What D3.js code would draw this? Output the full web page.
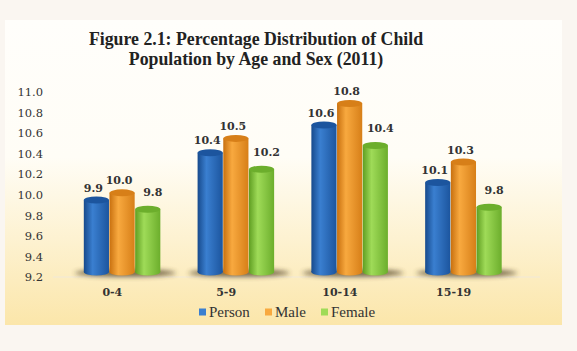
<!DOCTYPE html>
<html>
<head>
<meta charset="utf-8">
<script src="https://cdn.jsdelivr.net/npm/d3@7"></script>
<style>
  body { margin: 0; background: #faf6f1; }
  svg { display: block; }
</style>
</head>
<body>
<svg></svg>
<script>
const w = 577
const h = 351

// data
const ages = ['0-4', '5-9', '10-14', '15-19']
const series = ['Person', 'Male', 'Female']
const person = [9.90, 10.36, 10.63, 10.07]
const male = [9.97, 10.50, 10.84, 10.27]
const female = [9.81, 10.20, 10.43, 9.83]
const yTicks = [9.2, 9.4, 9.6, 9.8, 10.0, 10.2, 10.4, 10.6, 10.8, 11.0]

const colors = {
  Person: ['#174a8c', '#3a7fd0', '#1c559e'],
  Male: ['#c8700f', '#f8a93f', '#d77f18'],
  Female: ['#5f9e22', '#9fdb58', '#6cae2c']
}
// label nudges per series (excel moved the green ones up/right)
const labelShift = {
  Person: {dx: -3, dy: 0},
  Male: {dx: -3, dy: 0},
  Female: {dx: 5, dy: -5}
}

const svg = d3.select('svg')
  .attr('width', w)
  .attr('height', h);

const defs = svg.append('defs');

// panel background
const bg = defs.append('linearGradient').attr('id', 'bg')
  .attr('x1', 0).attr('y1', 0).attr('x2', 0).attr('y2', 1);
bg.append('stop').attr('offset', '0%').attr('stop-color', '#fffefb');
bg.append('stop').attr('offset', '45%').attr('stop-color', '#fffdf6');
bg.append('stop').attr('offset', '100%').attr('stop-color', '#fbe6aa');

svg.append('rect')
  .attr('x', 5).attr('y', 20)
  .attr('width', 557).attr('height', 305)
  .attr('fill', 'url(#bg)');

series.forEach(s => {
  const g = defs.append('linearGradient').attr('id', 'g-' + s)
    .attr('x1', 0).attr('y1', 0).attr('x2', 1).attr('y2', 0);
  g.append('stop').attr('offset', '0%').attr('stop-color', colors[s][0]);
  g.append('stop').attr('offset', '35%').attr('stop-color', colors[s][1]);
  g.append('stop').attr('offset', '100%').attr('stop-color', colors[s][2]);
});

const blur = defs.append('filter').attr('id', 'blur')
  .attr('x', '-20%').attr('y', '-100%').attr('width', '140%').attr('height', '300%');
blur.append('feGaussianBlur').attr('stdDeviation', 2.5);

const table = ages.map((a, i) => ({
  age: a,
  values: [
    {key: 'Person', v: person[i]},
    {key: 'Male', v: male[i]},
    {key: 'Female', v: female[i]}
  ]
}));

const x = d3.scaleBand()
  .domain(ages)
  .range([65.6, 520.4])
  .paddingInner(0.323)
  .paddingOuter(0.16);

const xs = d3.scaleBand()
  .domain(series)
  .range([0, x.bandwidth()]);

const y = d3.scaleLinear()
  .domain([9.2, 11.0])
  .range([277, 92]);

const lift = 5;   // 3d floor offset
const ry = 3.5;

// title
const title = svg.append('text')
  .attr('text-anchor', 'middle')
  .attr('font-family', 'Liberation Serif, serif')
  .attr('font-weight', 'bold')
  .attr('font-size', 17.8)
  .attr('fill', '#222');
title.append('tspan').attr('x', 256).attr('y', 45).text('Figure 2.1: Percentage Distribution of Child');
title.append('tspan').attr('x', 256).attr('y', 65).text('Population by Age and Sex (2011)');

// y axis
const yAxis = svg.append('g')
  .attr('transform', 'translate(46,0)')
  .call(d3.axisLeft(y).tickValues(yTicks).tickFormat(d3.format('.1f')).tickSize(0).tickPadding(3));
yAxis.select('.domain').remove();
yAxis.selectAll('text')
  .attr('font-family', 'DejaVu Serif, serif')
  .attr('font-size', 11.5)
  .attr('fill', '#333');

// floor line
svg.append('line')
  .attr('x1', 53).attr('x2', 540)
  .attr('y1', y(9.2)).attr('y2', y(9.2))
  .attr('stroke', '#f4ead0').attr('stroke-width', 1.5);

const groups = svg.selectAll('.grp').data(table)
  .enter().append('g')
  .attr('class', 'grp')
  .attr('transform', d => `translate(${x(d.age)},0)`);

// shadows
groups.append('ellipse')
  .attr('cx', x.bandwidth() / 2 + 3)
  .attr('cy', y(9.2) - lift + 1)
  .attr('rx', x.bandwidth() / 2 + 12)
  .attr('ry', 3.5)
  .attr('fill', '#4a3a22')
  .attr('opacity', 0.8)
  .attr('filter', 'url(#blur)');

const bars = groups.selectAll('.bar').data(d => d.values)
  .enter().append('g')
  .attr('class', 'bar');

const bw = xs.bandwidth() - 0.5;

bars.append('ellipse')
  .attr('cx', d => xs(d.key) + bw / 2)
  .attr('cy', y(9.2) - lift)
  .attr('rx', bw / 2)
  .attr('ry', ry)
  .attr('fill', d => `url(#g-${d.key})`);

bars.append('rect')
  .attr('x', d => xs(d.key))
  .attr('y', d => y(d.v) - lift)
  .attr('width', bw)
  .attr('height', d => y(9.2) - y(d.v))
  .attr('fill', d => `url(#g-${d.key})`);

bars.append('ellipse')
  .attr('cx', d => xs(d.key) + bw / 2)
  .attr('cy', d => y(d.v) - lift)
  .attr('rx', bw / 2)
  .attr('ry', ry)
  .attr('fill', d => colors[d.key][2]);

bars.append('text')
  .attr('x', d => xs(d.key) + bw / 2 + labelShift[d.key].dx)
  .attr('y', d => y(d.v) - lift - ry - 5 + labelShift[d.key].dy)
  .attr('text-anchor', 'middle')
  .attr('font-family', 'DejaVu Serif, serif')
  .attr('font-weight', 'bold')
  .attr('font-size', 11)
  .attr('fill', '#333')
  .text(d => d3.format('.1f')(d.v));

// x labels
svg.selectAll('.xl').data(ages)
  .enter().append('text')
  .attr('class', 'xl')
  .attr('x', d => x(d) + x.bandwidth() / 2 - 10)
  .attr('y', 296)
  .attr('text-anchor', 'middle')
  .attr('font-family', 'DejaVu Serif, serif')
  .attr('font-weight', 'bold')
  .attr('font-size', 11)
  .attr('fill', '#333')
  .text(d => d);

// legend
const legX = [199, 265, 321];
const leg = svg.selectAll('.leg').data(series)
  .enter().append('g')
  .attr('class', 'leg')
  .attr('transform', (d, i) => `translate(${legX[i]},312)`);
leg.append('rect')
  .attr('x', 0).attr('y', -3.5)
  .attr('width', 7).attr('height', 7)
  .attr('fill', d => colors[d][1]);
leg.append('text')
  .attr('x', 10).attr('y', 4.5)
  .attr('font-family', 'Liberation Serif, serif')
  .attr('font-size', 15)
  .attr('fill', '#333')
  .text(d => d);
</script>
</body>
</html>
